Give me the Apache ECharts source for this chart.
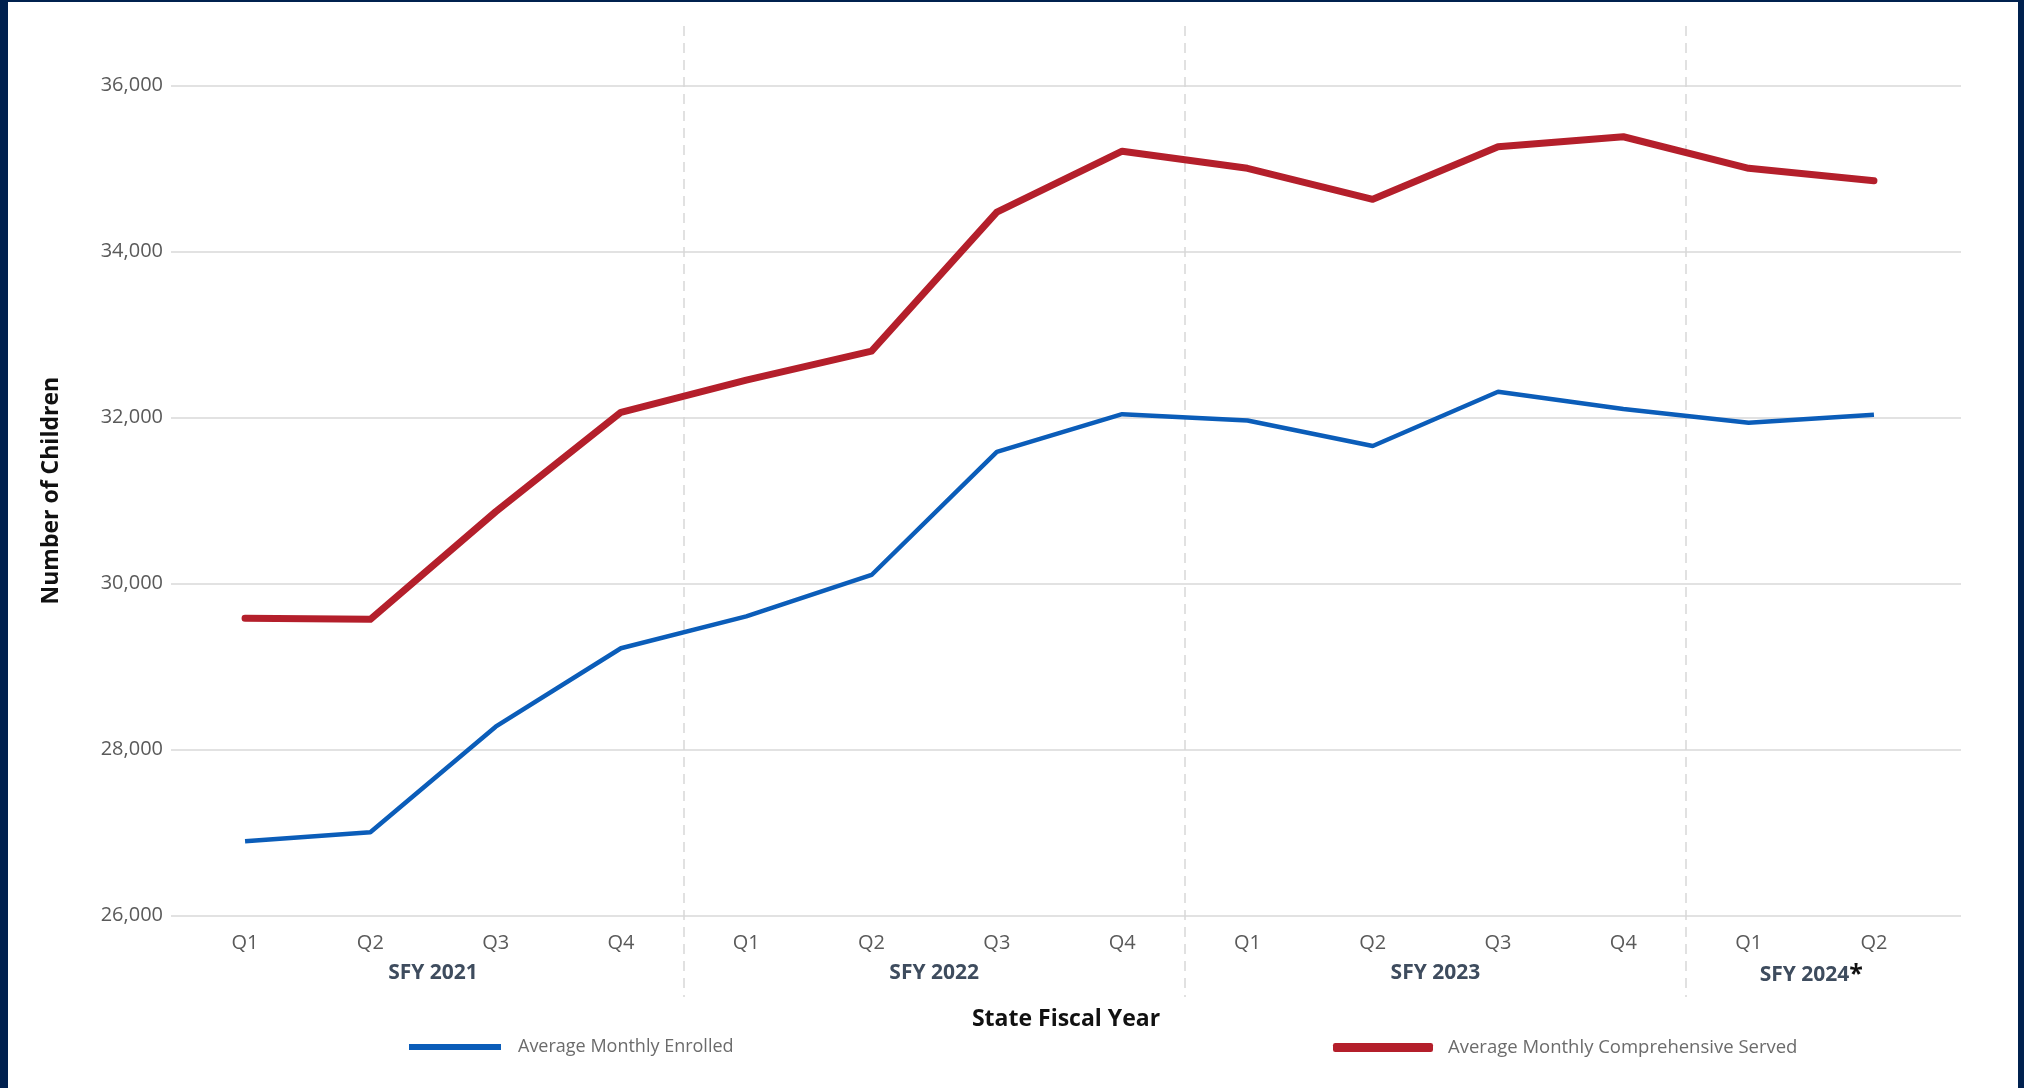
<!DOCTYPE html>
<html><head><meta charset="utf-8">
<script src="https://cdn.jsdelivr.net/npm/echarts@6/dist/echarts.min.js"></script>
<style>
html,body{margin:0;padding:0;background:#00214f;width:2024px;height:1088px;overflow:hidden;}
#chart{position:absolute;left:8px;top:2px;width:2010px;height:1086px;background:#ffffff;}
</style></head><body><div id="chart"></div>
<script>
// ---- data ----
const fiscalYears = ['SFY 2021', 'SFY 2022', 'SFY 2023', 'SFY 2024*'];
const quartersPerYear = [4, 4, 4, 2];
const quarters = ['Q1','Q2','Q3','Q4','Q1','Q2','Q3','Q4','Q1','Q2','Q3','Q4','Q1','Q2'];
const enrolled = [26896, 27005, 28277, 29222, 29606, 30105, 31589, 32043, 31967, 31659, 32313, 32105, 31940, 32036];
const served   = [29583, 29571, 30867, 32065, 32453, 32802, 34476, 35211, 35005, 34631, 35265, 35385, 35005, 34856];
const yMin = 26000, yMax = 36000, yStep = 2000;
const seriesNames = ['Average Monthly Enrolled', 'Average Monthly Comprehensive Served'];

// ---- derived ----
const categories = [];
const yearCenters = [];
const yearBounds = [];
let start = 0;
fiscalYears.forEach((fy, i) => {
  for (let k = 0; k < quartersPerYear[i]; k++) categories.push(fy + ' ' + quarters[start + k]);
  yearCenters.push(start + quartersPerYear[i] / 2);
  start += quartersPerYear[i];
  if (i < fiscalYears.length - 1) yearBounds.push(start);
});
const totalQ = start;

const FONT = "'Open Sans', sans-serif";
const BLUE = '#0b5db9', RED = '#b41f2b';
const G = { top: 83.7, bottom: 172.3 };

const chart = echarts.init(document.getElementById('chart'));
chart.setOption({
  animation: false,
  backgroundColor: '#ffffff',
  textStyle: { fontFamily: FONT },
  grid: [
    { left: 163, right: 57, top: G.top, bottom: G.bottom },
    { left: 174.4, right: 81.4, top: G.top, bottom: G.bottom },
    { left: 174.4, right: 81.4, top: 24, bottom: 91 }
  ],
  xAxis: [
    { gridIndex: 0, type: 'category', data: categories,
      axisLine: { show: false }, axisTick: { show: false }, axisLabel: { show: false },
      name: 'State Fiscal Year', nameLocation: 'middle', nameGap: 92,
      nameTextStyle: { fontFamily: FONT, fontWeight: 'bold', fontSize: 23, color: '#111111' } },
    { gridIndex: 1, type: 'category', data: categories, boundaryGap: true, position: 'bottom',
      axisLine: { show: false }, axisTick: { show: false }, splitLine: { show: false },
      axisLabel: { formatter: (v, i) => quarters[i], margin: 18, fontSize: 20, color: '#5a5a5a', fontFamily: FONT } },
    { gridIndex: 1, type: 'value', min: 0, max: totalQ, position: 'bottom', offset: 0,
      axisLine: { show: false }, axisTick: { show: false }, splitLine: { show: false },
      axisLabel: { customValues: yearCenters, margin: 47, fontSize: 21, fontWeight: 'bold', color: '#3e4c5e', fontFamily: FONT,
        formatter: v => {
          const idx = yearCenters.indexOf(v);
          if (idx < 0) return '';
          const t = fiscalYears[idx];
          return t.endsWith('*') ? t.slice(0, -1) + '{ast|*}' : t;
        },
        rich: { ast: { fontSize: 25, color: '#111111', fontWeight: 'bold', fontFamily: FONT, verticalAlign: 'top' } } } },
    { gridIndex: 2, type: 'value', min: 0, max: totalQ,
      axisLine: { show: false }, axisTick: { show: false, customValues: yearBounds }, axisLabel: { show: false },
      splitLine: { show: true, lineStyle: { type: [10, 7], color: '#d8d8d8', width: 1.5 } } }
  ],
  yAxis: [
    { gridIndex: 0, type: 'value', min: yMin, max: yMax, interval: yStep,
      axisLine: { show: false }, axisTick: { show: false },
      axisLabel: { formatter: v => v.toLocaleString('en-US'), margin: 8, fontSize: 20, color: '#5a5a5a', fontFamily: FONT },
      splitLine: { lineStyle: { color: '#d9d9d9', width: 1.5 } },
      name: 'Number of Children', nameLocation: 'middle', nameGap: 108,
      nameTextStyle: { fontFamily: FONT, fontWeight: 'bold', fontSize: 23, color: '#111111', padding: [0, 0, 0, 20] } },
    { gridIndex: 1, type: 'value', min: yMin, max: yMax, interval: yStep, show: false },
    { gridIndex: 2, type: 'value', show: false }
  ],
  legend: [
    { data: [seriesNames[0]], left: 396, top: 1031, icon: 'rect', itemWidth: 92, itemHeight: 6,
      textStyle: { fontFamily: FONT, fontSize: 18, color: '#6b6b6b', padding: [0, 0, 0, 12] } },
    { data: [seriesNames[1]], left: 1320, top: 1031, icon: 'roundRect', itemWidth: 100, itemHeight: 9,
      textStyle: { fontFamily: FONT, fontSize: 18.5, color: '#6b6b6b', padding: [0, 0, 0, 10] } }
  ],
  series: [
    { name: seriesNames[0], type: 'line', xAxisIndex: 1, yAxisIndex: 1, data: enrolled,
      symbol: 'none', lineStyle: { color: BLUE, width: 4.5 }, itemStyle: { color: BLUE } },
    { name: seriesNames[1], type: 'line', xAxisIndex: 1, yAxisIndex: 1, data: served,
      symbol: 'none', lineStyle: { color: RED, width: 7, cap: 'round', join: 'round' }, itemStyle: { color: RED } }
  ]
});
</script></body></html>
